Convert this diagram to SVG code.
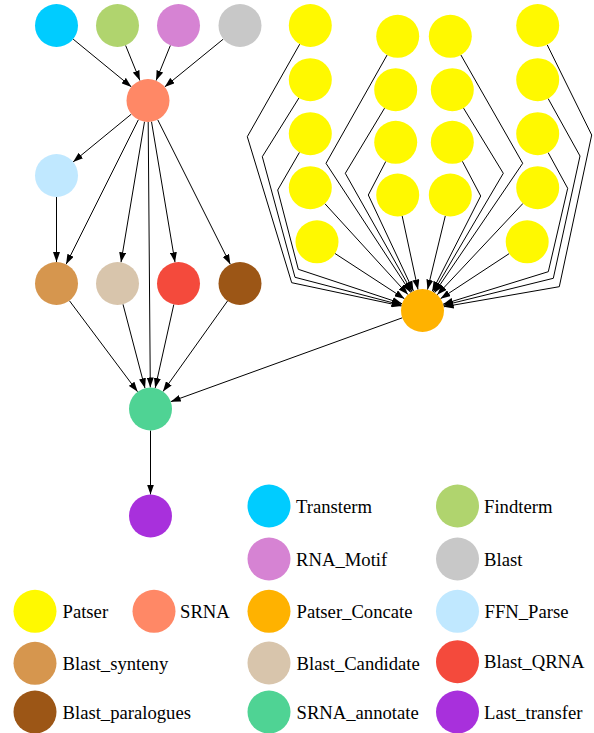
<svg xmlns="http://www.w3.org/2000/svg" width="594" height="733" viewBox="0 0 594 733">
<defs>
<marker id="arr" markerUnits="userSpaceOnUse" markerWidth="10" markerHeight="7" viewBox="0 0 10 7" refX="10" refY="3.5" orient="auto"><path d="M0,0L10,3.5L0,7z" fill="#000"/></marker>
</defs>
<style>
.e{fill:none;stroke:#000;stroke-width:1;marker-end:url(#arr)}
text{font-family:"Liberation Serif","Times New Roman",serif;font-size:18.67px;fill:#000}
.transterm{fill:#00CCFF}.findterm{fill:#B0D46E}.rnamotif{fill:#D683D3}.blast{fill:#C8C8C8}
.srna{fill:#FF8866}.ffn{fill:#C0E8FF}.bsyn{fill:#D6964E}.bcand{fill:#D8C5AC}.bqrna{fill:#F44A3C}
.bpara{fill:#9C5616}.sann{fill:#4FD394}.last{fill:#A830DC}.patser{fill:#FFF900}.pconc{fill:#FFB200}
</style>
<rect width="594" height="733" fill="#fff"/>
<g id="connectors">
<path class="e" d="M73.1,39.1L131.4,86.9"/>
<path class="e" d="M125.6,45.4L139.9,80.6"/>
<path class="e" d="M170.4,45.4L156.1,80.6"/>
<path class="e" d="M223.3,39.1L164.7,86.9"/>
<path class="e" d="M131.4,114.1L73.1,161.9"/>
<path class="e" d="M56.5,197L56.5,262"/>
<path class="e" d="M138.4,119.7L66.1,264.3"/>
<path class="e" d="M144.5,121.7L121,262.3"/>
<path class="e" d="M148.2,122L150.3,387.5"/>
<path class="e" d="M151.5,121.7L175,262.3"/>
<path class="e" d="M157.7,119.7L230.3,264.3"/>
<path class="e" d="M69.4,300.7L137.6,391.8"/>
<path class="e" d="M123,304.3L145,388.2"/>
<path class="e" d="M173.8,304.5L155.2,388"/>
<path class="e" d="M227.5,301L163,391.5"/>
<path class="e" d="M402.3,317.8L170.7,401.7"/>
<path class="e" d="M150.5,430.5L150.5,494.5"/>
<path class="e" d="M299.7,44.2L247.3,136.7L291.7,282.7L401.5,306"/>
<path class="e" d="M298.9,98L262.3,156.7L295,277.3L401.7,305.1"/>
<path class="e" d="M299.5,152.3L277.7,190L298.3,269.3L402.1,303.7"/>
<path class="e" d="M324.8,203.6L408,294.6"/>
<path class="e" d="M335,253.5L404.5,298.8"/>
<path class="e" d="M387.1,55L326,163.3L410.7,292.5"/>
<path class="e" d="M384.6,108.1L345.3,173.3L412,291.8"/>
<path class="e" d="M385.8,161.4L368.3,195L413.4,291"/>
<path class="e" d="M402.2,216L418,289.5"/>
<path class="e" d="M460.9,55L522.7,163.3L434.6,292.7"/>
<path class="e" d="M463.5,108.1L503.3,173.3L433.4,292"/>
<path class="e" d="M462.4,161.3L480.7,196L432.2,291.3"/>
<path class="e" d="M445.3,215.9L427.5,289.6"/>
<path class="e" d="M547.2,44.8L591.7,135L559.3,286.7L443.7,306.8"/>
<path class="e" d="M548.1,98.5L580,156L553.3,278.3L443.4,305.4"/>
<path class="e" d="M548.1,152.5L567.7,188.3L548.3,271.7L443.1,304.2"/>
<path class="e" d="M523,203.4L437.2,294.8"/>
<path class="e" d="M509.2,253.6L440.5,298.7"/>
</g>
<g id="transterm"><circle class="transterm" cx="56.5" cy="25.5" r="21.5"/></g>
<g id="findterm"><circle class="findterm" cx="117.5" cy="25.5" r="21.5"/></g>
<g id="rna_motif"><circle class="rnamotif" cx="178.5" cy="25.5" r="21.5"/></g>
<g id="blast"><circle class="blast" cx="240" cy="25.5" r="21.5"/></g>
<g id="srna"><circle class="srna" cx="148" cy="100.5" r="21.5"/></g>
<g id="ffn_parse"><circle class="ffn" cx="56.5" cy="175.5" r="21.5"/></g>
<g id="blast_synteny"><circle class="bsyn" cx="56.5" cy="283.5" r="21.5"/></g>
<g id="blast_candidate"><circle class="bcand" cx="117.5" cy="283.5" r="21.5"/></g>
<g id="blast_qrna"><circle class="bqrna" cx="178.5" cy="283.5" r="21.5"/></g>
<g id="blast_paralogues"><circle class="bpara" cx="240" cy="283.5" r="21.5"/></g>
<g id="srna_annotate"><circle class="sann" cx="150.5" cy="409" r="21.5"/></g>
<g id="last_transfer"><circle class="last" cx="150.5" cy="516" r="21.5"/></g>
<g id="patser_concate"><circle class="pconc" cx="422.5" cy="310.5" r="21.5"/></g>
<g id="patser1"><circle class="patser" cx="310.3" cy="25.5" r="21.5"/></g>
<g id="patser2"><circle class="patser" cx="310.3" cy="79.7" r="21.5"/></g>
<g id="patser3"><circle class="patser" cx="310.3" cy="133.7" r="21.5"/></g>
<g id="patser4"><circle class="patser" cx="310.3" cy="187.7" r="21.5"/></g>
<g id="patser5"><circle class="patser" cx="317" cy="241.8" r="21.5"/></g>
<g id="patser6"><circle class="patser" cx="397.7" cy="36.3" r="21.5"/></g>
<g id="patser7"><circle class="patser" cx="395.7" cy="89.7" r="21.5"/></g>
<g id="patser8"><circle class="patser" cx="395.7" cy="142.3" r="21.5"/></g>
<g id="patser9"><circle class="patser" cx="397.7" cy="195" r="21.5"/></g>
<g id="patser10"><circle class="patser" cx="450.3" cy="36.3" r="21.5"/></g>
<g id="patser11"><circle class="patser" cx="452.3" cy="89.7" r="21.5"/></g>
<g id="patser12"><circle class="patser" cx="452.3" cy="142.3" r="21.5"/></g>
<g id="patser13"><circle class="patser" cx="450.3" cy="195" r="21.5"/></g>
<g id="patser14"><circle class="patser" cx="537.7" cy="25.5" r="21.5"/></g>
<g id="patser15"><circle class="patser" cx="537.7" cy="79.7" r="21.5"/></g>
<g id="patser16"><circle class="patser" cx="537.7" cy="133.7" r="21.5"/></g>
<g id="patser17"><circle class="patser" cx="537.7" cy="187.7" r="21.5"/></g>
<g id="patser18"><circle class="patser" cx="527.2" cy="241.8" r="21.5"/></g>
<g id="legend">
<g id="lg_transterm"><circle class="transterm" cx="269" cy="506" r="21.5"/><text x="296" y="512.5">Transterm</text></g>
<g id="lg_findterm"><circle class="findterm" cx="457.5" cy="506" r="21.5"/><text x="484" y="512.5">Findterm</text></g>
<g id="lg_rna_motif"><circle class="rnamotif" cx="269" cy="559" r="21.5"/><text x="296" y="565.5">RNA_Motif</text></g>
<g id="lg_blast"><circle class="blast" cx="457.5" cy="559" r="21.5"/><text x="484" y="565.5">Blast</text></g>
<g id="lg_patser"><circle class="patser" cx="35" cy="611.3" r="21.5"/><text x="62.5" y="618">Patser</text></g>
<g id="lg_srna"><circle class="srna" cx="154" cy="611.3" r="21.5"/><text x="180" y="618">SRNA</text></g>
<g id="lg_patser_concate"><circle class="pconc" cx="269" cy="611.3" r="21.5"/><text x="296.5" y="618">Patser_Concate</text></g>
<g id="lg_ffn_parse"><circle class="ffn" cx="457.5" cy="611.3" r="21.5"/><text x="484.5" y="618">FFN_Parse</text></g>
<g id="lg_blast_synteny"><circle class="bsyn" cx="35" cy="663.3" r="21.5"/><text x="62.5" y="669.5">Blast_synteny</text></g>
<g id="lg_blast_candidate"><circle class="bcand" cx="269" cy="663" r="21.5"/><text x="296.5" y="669.5">Blast_Candidate</text></g>
<g id="lg_blast_qrna"><circle class="bqrna" cx="457.5" cy="661.7" r="21.5"/><text x="484" y="668">Blast_QRNA</text></g>
<g id="lg_blast_paralogues"><circle class="bpara" cx="35" cy="712" r="21.5"/><text x="62.5" y="718.5">Blast_paralogues</text></g>
<g id="lg_srna_annotate"><circle class="sann" cx="269" cy="712" r="21.5"/><text x="296.5" y="718.5">SRNA_annotate</text></g>
<g id="lg_last_transfer"><circle class="last" cx="457.5" cy="712" r="21.5"/><text x="484" y="718.5">Last_transfer</text></g>
</g>
</svg>
